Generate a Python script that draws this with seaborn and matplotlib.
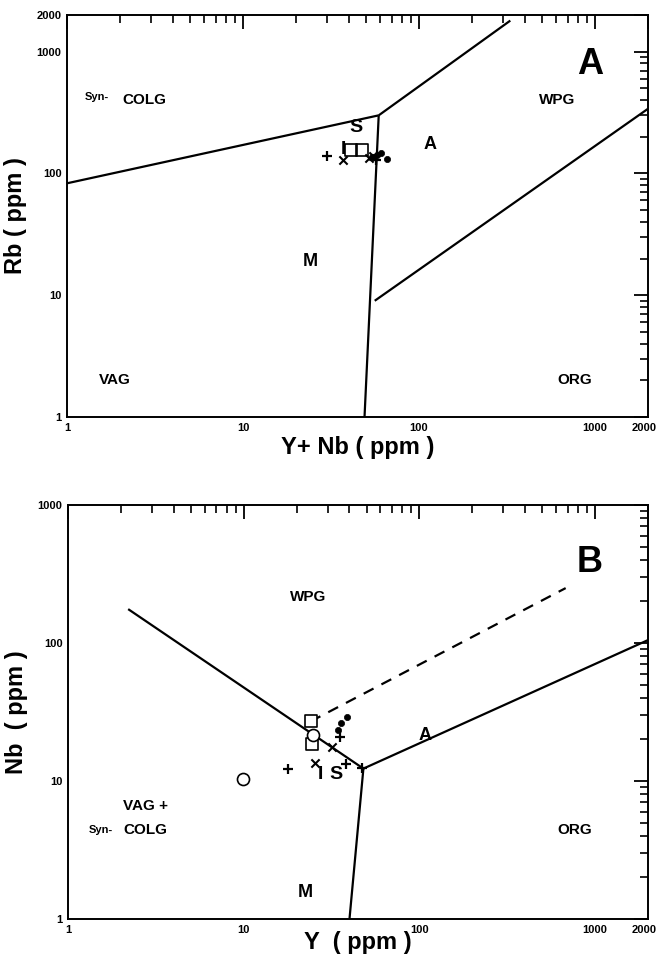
import numpy as np
import pandas as pd
import matplotlib
matplotlib.use("Agg")
import matplotlib.pyplot as plt
import matplotlib.transforms as mtransforms
import seaborn as sns
from matplotlib.ticker import LogLocator, NullFormatter, FixedLocator, FixedFormatter

sns.set_style("white")
plt.rcParams['font.family'] = ['Liberation Sans', 'DejaVu Sans']
plt.rcParams['font.weight'] = 'bold'
plt.rcParams['text.color'] = 'black'
plt.rcParams['axes.labelcolor'] = 'black'
plt.rcParams['xtick.color'] = 'black'
plt.rcParams['ytick.color'] = 'black'

# ---------------- Panel A data (Rb vs Y+Nb) ----------------
a_plus_x = [30, 57]
a_plus_y = [139, 128]
a_cross_x = [37, 52, 55]
a_cross_y = [129, 135, 140]
a_square_x = [41, 47.5]
a_square_y = [155, 155]
a_dot_x = [54, 58, 61, 66]
a_dot_y = [136, 142, 148, 131]

# Panel A field boundaries
a_bound_colg_x = [1, 59]
a_bound_colg_y = [83, 300]
a_bound_wpg_x = [59, 330]
a_bound_wpg_y = [300, 1800]
a_bound_vag_x = [59, 49]
a_bound_vag_y = [300, 1]
a_bound_org_x = [56, 2000]
a_bound_org_y = [9, 340]

# ---------------- Panel B data (Nb vs Y) ----------------
b_plus_x = [17.8, 24.4, 35.5, 38, 47]
b_plus_y = [12.3, 18.5, 21, 13.2, 12.4]
b_cross_x = [25.5, 32]
b_cross_y = [13.5, 17.5]
b_square_x = [24, 24.4]
b_square_y = [27, 18.5]
b_circle_x = [9.9, 24.7]
b_circle_y = [10.3, 21.5]
b_dot_x = [38.5, 36, 34.5]
b_dot_y = [29, 26.5, 23.5]

b_bound_wpg_x = [2.2, 48]
b_bound_wpg_y = [176, 12.3]
b_bound_m_x = [48, 40]
b_bound_m_y = [12.3, 1]
b_bound_org_x = [48, 2000]
b_bound_org_y = [12.3, 105]
b_dash_x = [24, 680]
b_dash_y = [27, 250]

fig = plt.figure(figsize=(6.61, 9.57), dpi=100)
axA = fig.add_axes([0.1014, 0.5643, 0.879, 0.420])
axB = fig.add_axes([0.1029, 0.0397, 0.8774, 0.4326])

lw = 1.6

def style_axis(ax, xlim, ylim, xt, yt):
    ax.set_xscale('log')
    ax.set_yscale('log')
    ax.set_xlim(*xlim)
    ax.set_ylim(*ylim)
    ax.xaxis.set_major_locator(FixedLocator(xt))
    ax.xaxis.set_major_formatter(FixedFormatter([str(v) for v in xt]))
    ax.yaxis.set_major_locator(FixedLocator(yt))
    ax.yaxis.set_major_formatter(FixedFormatter([str(v) for v in yt]))
    ax.xaxis.set_minor_locator(LogLocator(base=10, subs=np.arange(2, 10)))
    ax.yaxis.set_minor_locator(LogLocator(base=10, subs=np.arange(2, 10)))
    ax.xaxis.set_minor_formatter(NullFormatter())
    ax.yaxis.set_minor_formatter(NullFormatter())
    ax.tick_params(which='major', direction='in', length=10, width=1.3,
                   top=True, right=True, labelsize=8, pad=4, colors='black')
    ax.tick_params(which='minor', direction='in', length=6, width=1.2,
                   top=True, right=True, colors='black')
    fig.canvas.draw()
    for lab in ax.get_xticklabels() + ax.get_yticklabels():
        lab.set_fontweight('bold')
    xl = ax.get_xticklabels()
    last = xl[-1]
    last.set_transform(last.get_transform() + mtransforms.ScaledTranslation(-4 / 100, 0, fig.dpi_scale_trans))
    for s in ax.spines.values():
        s.set_linewidth(1.4)
        s.set_color('black')
    ax.grid(False)

def set_labels(ax, xlabel, ylabel, xy, yx, size=17):
    ax.set_xlabel(xlabel, fontsize=size, fontweight='bold', color='black')
    ax.set_ylabel(ylabel, fontsize=size, fontweight='bold', color='black')
    ax.xaxis.set_label_coords(0.5, xy)
    ax.yaxis.set_label_coords(yx, 0.5)
    ax.xaxis.label.set_va('center')
    ax.xaxis.label.set_ha('center')
    ax.yaxis.label.set_va('center')
    ax.yaxis.label.set_ha('center')

def scatter_sets(ax, sets):
    for xs, ys, marker, face, size, lwm in sets:
        df = pd.DataFrame({'x': xs, 'y': ys})
        sns.scatterplot(data=df, x='x', y='y', ax=ax, marker=marker,
                        facecolor=face, edgecolor='black', color='black',
                        s=size, linewidth=lwm, legend=False, zorder=5)

# ---------- Panel A ----------
for xs, ys in [(a_bound_colg_x, a_bound_colg_y), (a_bound_wpg_x, a_bound_wpg_y),
               (a_bound_vag_x, a_bound_vag_y), (a_bound_org_x, a_bound_org_y)]:
    axA.plot(xs, ys, color='black', lw=lw, solid_capstyle='butt')

scatter_sets(axA, [
    (a_plus_x, a_plus_y, '+', 'black', 55, 1.6),
    (a_cross_x, a_cross_y, 'x', 'black', 35, 1.5),
    (a_square_x, a_square_y, 's', 'none', 70, 1.2),
    (a_dot_x, a_dot_y, 'o', 'black', 20, 0.5),
])
style_axis(axA, (1, 2000), (1, 2000), [1, 10, 100, 1000, 2000], [1, 10, 100, 1000, 2000])
set_labels(axA, 'Y+ Nb ( ppm )', 'Rb ( ppm )', -0.075, -0.0895)

def lab(ax, fx, fy, t, size=10, ha='center'):
    ax.text(fx, fy, t, transform=ax.transAxes, fontsize=size, fontweight='bold',
            ha=ha, va='center', color='black')

lab(axA, 0.031, 0.797, 'Syn-', 8, 'left')
lab(axA, 0.096, 0.789, 'COLG', 11, 'left')
lab(axA, 0.843, 0.789, 'WPG', 11)
lab(axA, 0.625, 0.677, 'A', 13)
lab(axA, 0.497, 0.72, 'S', 14)
lab(axA, 0.476, 0.666, 'I', 14)
lab(axA, 0.418, 0.386, 'M', 13)
lab(axA, 0.083, 0.092, 'VAG', 11)
lab(axA, 0.874, 0.092, 'ORG', 11)
lab(axA, 0.90, 0.876, 'A', 26)

# ---------- Panel B ----------
for xs, ys in [(b_bound_wpg_x, b_bound_wpg_y), (b_bound_m_x, b_bound_m_y),
               (b_bound_org_x, b_bound_org_y)]:
    axB.plot(xs, ys, color='black', lw=lw, solid_capstyle='butt')
axB.plot(b_dash_x, b_dash_y, color='black', lw=lw, ls=(0, (5, 4)))

scatter_sets(axB, [
    (b_plus_x, b_plus_y, '+', 'black', 55, 1.6),
    (b_cross_x, b_cross_y, 'x', 'black', 35, 1.5),
    (b_square_x, b_square_y, 's', 'white', 70, 1.2),
    (b_circle_x, b_circle_y, 'o', 'white', 75, 1.2),
    (b_dot_x, b_dot_y, 'o', 'black', 20, 0.5),
])
style_axis(axB, (1, 2000), (1, 1000), [1, 10, 100, 1000, 2000], [1, 10, 100, 1000])
set_labels(axB, 'Y  ( ppm )', 'Nb  ( ppm )', -0.0556, -0.0895)

lab(axB, 0.414, 0.778, 'WPG', 11)
lab(axB, 0.615, 0.444, 'A', 13)
lab(axB, 0.435, 0.35, 'I', 14)
lab(axB, 0.462, 0.35, 'S', 14)
lab(axB, 0.41, 0.065, 'M', 13)
lab(axB, 0.095, 0.272, 'VAG +', 11, 'left')
lab(axB, 0.035, 0.215, 'Syn-', 8, 'left')
lab(axB, 0.095, 0.215, 'COLG', 11, 'left')
lab(axB, 0.874, 0.215, 'ORG', 11)
lab(axB, 0.90, 0.86, 'B', 26)

fig.savefig('out.png', dpi=100)
